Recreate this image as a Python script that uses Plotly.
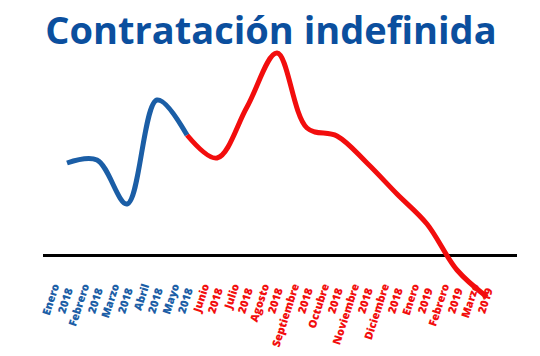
import plotly.graph_objects as go

months = ["Enero", "Febrero", "Marzo", "Abril", "Mayo", "Junio", "Julio", "Agosto",
          "Septiembre", "Octubre", "Noviembre", "Diciembre", "Enero", "Febrero", "Marzo"]
years = ["2018"] * 12 + ["2019"] * 3
values = [92, 95, 51, 155, 120, 97, 148, 202, 127, 119, 92, 61, 31, -15, -42]
blue_count = 5  # Enero–Mayo 2018 in blue

BLUE = "#1b5ea6"
RED = "#f20d0d"
TITLE_BLUE = "#0b4f9e"

idx = list(range(len(values)))
ticktext = []
for i, (m, y) in enumerate(zip(months, years)):
    c = BLUE if i < blue_count else RED
    ticktext.append(f"<span style='color:{c}'>{m}<br>{y}</span>")

fig = go.Figure()
fig.add_trace(go.Scatter(x=idx[blue_count - 1:], y=values[blue_count - 1:], mode="lines",
                         line=dict(color=RED, width=5, shape="spline", smoothing=1.0),
                         hoverinfo="skip"))
fig.add_trace(go.Scatter(x=idx[:blue_count], y=values[:blue_count], mode="lines",
                         line=dict(color=BLUE, width=5, shape="spline", smoothing=1.0),
                         hoverinfo="skip"))

fig.update_layout(
    width=540, height=356,
    margin=dict(l=35, r=31, t=32, b=49),
    paper_bgcolor="white", plot_bgcolor="white",
    showlegend=False,
    title=dict(text="<b>Contratación indefinida</b>", x=0.487, xanchor="center",
               y=0.935, yanchor="middle",
               font=dict(family="Open Sans", size=38, color=TITLE_BLUE, weight=800)),
    xaxis=dict(range=[-0.8, 15.0], tickmode="array", tickvals=idx, ticktext=ticktext,
               tickangle=-72, showgrid=False, showline=False, ticks="",
               anchor="free", position=0.13, zeroline=False, ticklabelshift=-6,
               tickfont=dict(family="Open Sans", size=11, weight=800)),
    yaxis=dict(range=[-60, 215], showgrid=False, showticklabels=False, ticks="",
               zeroline=True, zerolinecolor="black", zerolinewidth=3, showline=False),
)

fig.write_html("out.html")
